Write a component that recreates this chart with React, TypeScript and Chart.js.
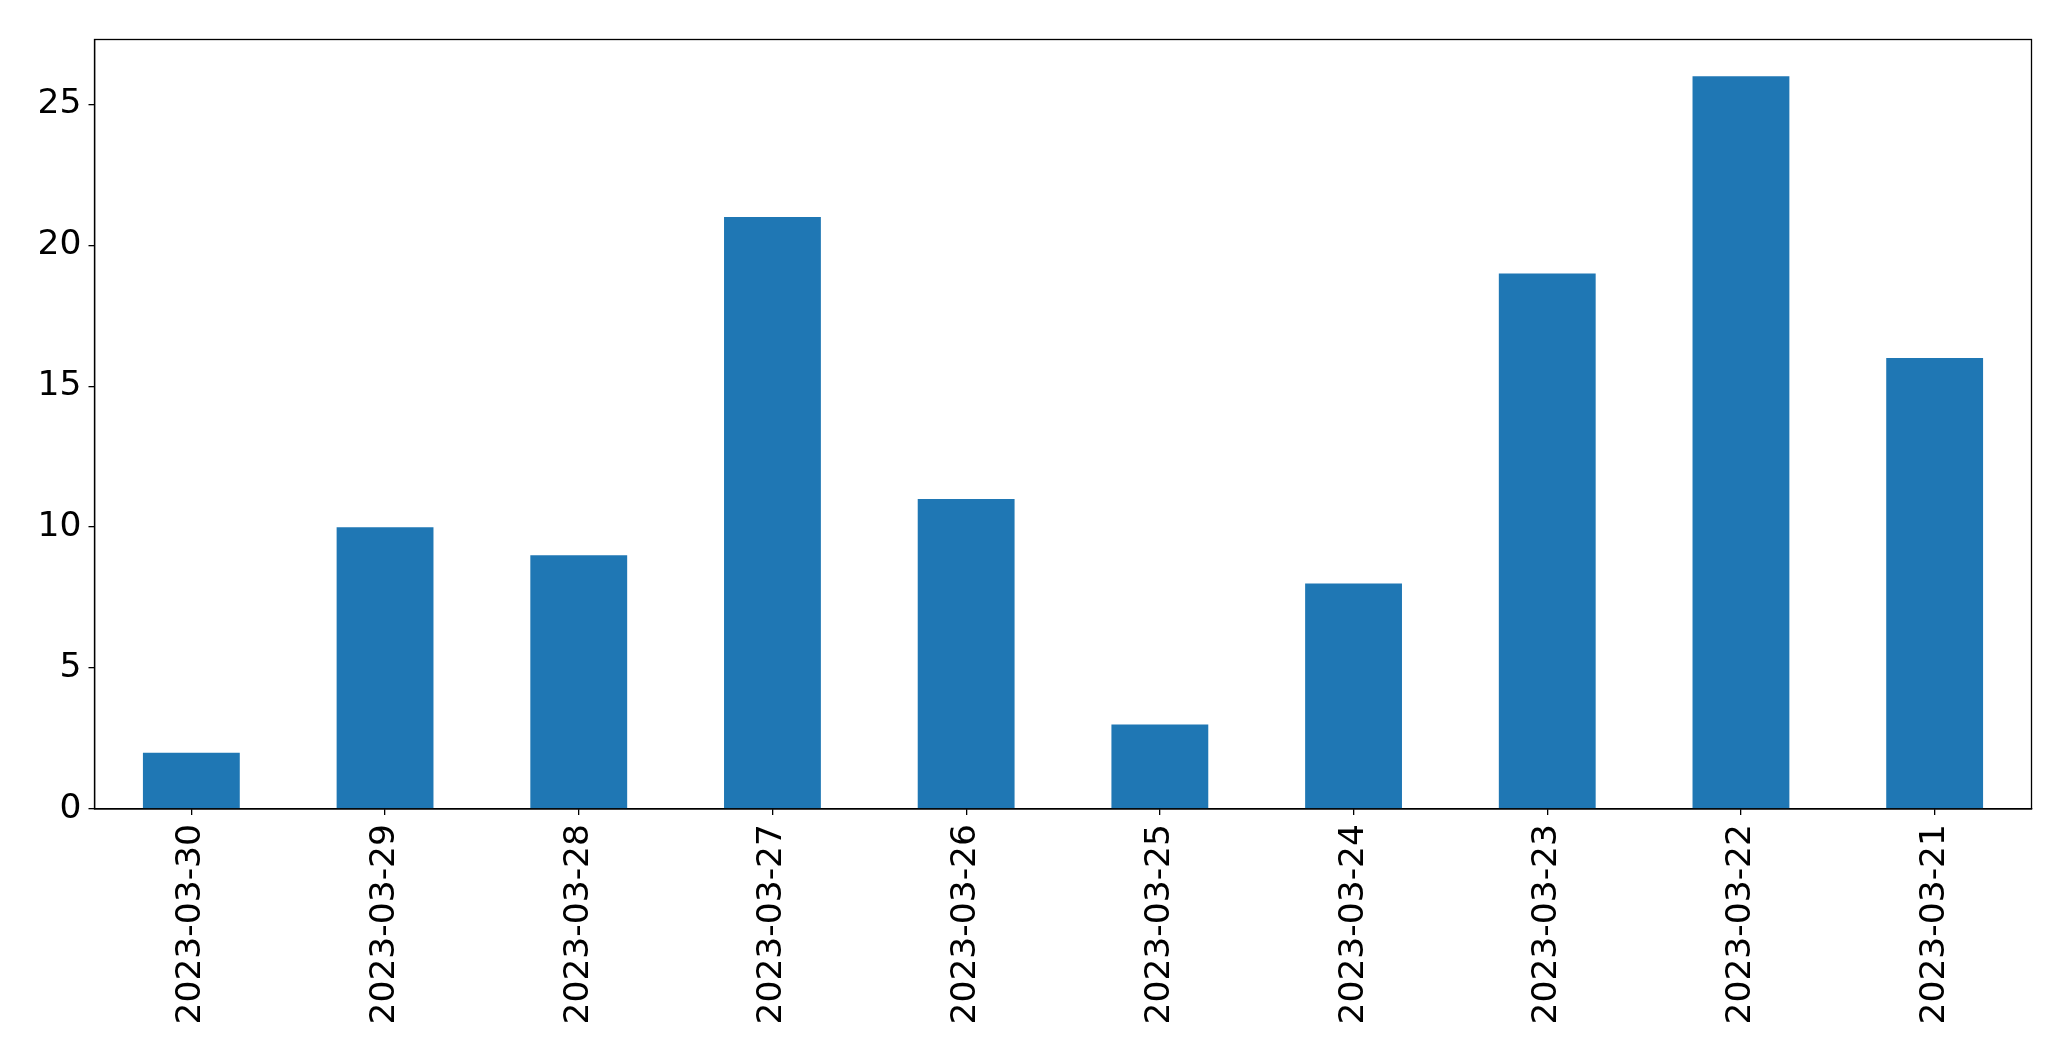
import React, { useEffect, useRef } from "react";
import { Chart, registerables } from "chart.js";

Chart.register(...registerables);

const categories = [
  "2023-03-30",
  "2023-03-29",
  "2023-03-28",
  "2023-03-27",
  "2023-03-26",
  "2023-03-25",
  "2023-03-24",
  "2023-03-23",
  "2023-03-22",
  "2023-03-21",
];
const counts = [2, 10, 9, 21, 11, 3, 8, 19, 26, 16];
const yMax = 27.3;
const yStep = 5;

const W = 2071;
const H = 1061;

const framePlugin = {
  id: "frame",
  afterDraw(chart: any) {
    const { ctx, chartArea } = chart;
    ctx.save();
    ctx.strokeStyle = "#000";
    ctx.lineWidth = 1.3;
    ctx.strokeRect(
      chartArea.left,
      chartArea.top,
      chartArea.right - chartArea.left,
      chartArea.bottom - chartArea.top
    );
    ctx.restore();
  },
};

export default function App() {
  const ref = useRef<HTMLCanvasElement>(null);
  useEffect(() => {
    document.body.style.margin = "0";
    const font = { family: "'DejaVu Sans', sans-serif", size: 34.5 };
    const chart = new Chart(ref.current!, {
      type: "bar",
      data: {
        labels: categories,
        datasets: [
          {
            data: counts,
            backgroundColor: "#1f77b4",
            borderWidth: 0,
            categoryPercentage: 1,
            barPercentage: 0.5,
          },
        ],
      },
      options: {
        animation: false,
        responsive: false,
        devicePixelRatio: 1,
        layout: { padding: { top: 39.5, right: 39.5, left: 0, bottom: 0 } },
        plugins: { legend: { display: false }, tooltip: { enabled: false } },
        scales: {
          x: {
            offset: true,
            grid: {
              display: true,
              drawOnChartArea: false,
              drawTicks: true,
              tickLength: 6,
              color: "#000",
              lineWidth: 1.3,
              offset: false,
            },
            border: { display: true, color: "#000", width: 1.3 },
            ticks: {
              color: "#000",
              font,
              maxRotation: 90,
              minRotation: 90,
              autoSkip: false,
              padding: 9,
            },
            afterFit(scale: any) {
              scale.height = 252;
            },
          },
          y: {
            min: 0,
            max: yMax,
            grid: {
              display: true,
              drawOnChartArea: false,
              drawTicks: true,
              tickLength: 6,
              color: "#000",
              lineWidth: 1.3,
            },
            border: { display: true, color: "#000", width: 1.3 },
            ticks: {
              color: "#000",
              font,
              stepSize: yStep,
              includeBounds: false,
              padding: 7,
            },
            afterFit(scale: any) {
              scale.width = 94.5;
            },
          },
        },
      },
      plugins: [framePlugin],
    } as any);
    return () => chart.destroy();
  }, []);
  return (
    <div style={{ width: W, height: H, background: "#fff" }}>
      <canvas ref={ref} width={W} height={H} style={{ display: "block" }} />
    </div>
  );
}
